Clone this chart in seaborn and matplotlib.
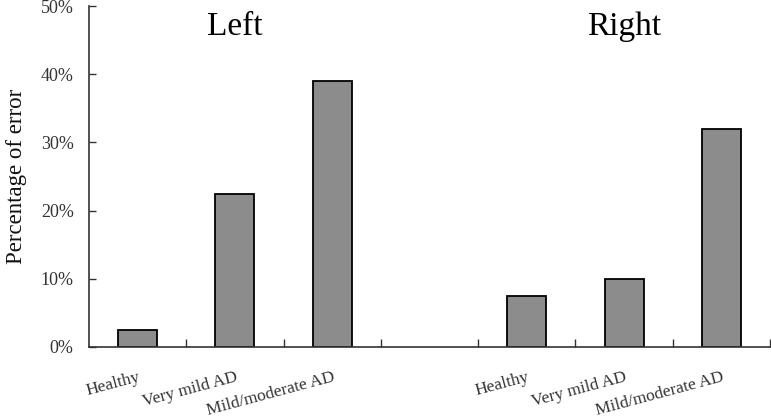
import matplotlib
matplotlib.use("Agg")
import matplotlib.pyplot as plt
import seaborn as sns
import pandas as pd
import numpy as np
from matplotlib.ticker import FixedLocator, FuncFormatter

# slot keys (one empty slot between the two sides)
slots = ["L_healthy", "L_vmild", "L_mild", "gap", "R_healthy", "R_vmild", "R_mild"]
slot_labels = ["Healthy", "Very mild AD", "Mild/moderate AD", "",
               "Healthy", "Very mild AD", "Mild/moderate AD"]
bar_keys = ["L_healthy", "L_vmild", "L_mild", "R_healthy", "R_vmild", "R_mild"]
error_pct = [2.5, 22.5, 39.0, 7.5, 10.0, 32.0]
side_titles = ["Left", "Right"]
title_slots = [1, 5]

sns.set_style("white")
plt.rcParams["font.family"] = ["Liberation Serif", "DejaVu Serif"]

df = pd.DataFrame({"slot": bar_keys, "err": error_pct})

fig = plt.figure(figsize=(7.71, 4.18), dpi=100)
ax = fig.add_axes([0.1154, 0.170, 0.8833, 0.8156])
sns.barplot(data=df, x="slot", y="err", order=slots, width=0.4,
            color="#8c8c8c", saturation=1, edgecolor="black", linewidth=1.3, ax=ax)

ax.set_xlim(-0.5, 6.5)
ax.set_ylim(0, 50)
ax.set_xlabel("")
ax.set_ylabel("Percentage of error", fontsize=16.5, color="#111111", labelpad=10)

for s in ["top", "right"]:
    ax.spines[s].set_visible(False)
for s in ["left", "bottom"]:
    ax.spines[s].set_color("#333333")
    ax.spines[s].set_linewidth(1.2)

ax.yaxis.set_major_locator(FixedLocator(np.arange(0, 51, 10)))
ax.yaxis.set_major_formatter(FuncFormatter(lambda v, p: f"{v:.0f}%"))
ax.tick_params(axis="y", left=True, direction="in", length=5, width=1, color="#333333",
               labelsize=13, labelcolor="#333333", pad=11)

ax.set_xticks(range(len(slots)))
ax.set_xticklabels(slot_labels, rotation=15, ha="right", va="top",
                   rotation_mode="anchor", fontsize=12.5, color="#333333")
ax.tick_params(axis="x", which="major", length=0, pad=16)
ax.xaxis.set_minor_locator(FixedLocator(np.arange(0.5, 7.0, 1.0)))
ax.tick_params(axis="x", which="minor", bottom=True, direction="in", length=6, width=1,
               color="#333333")

for t, sl in zip(side_titles, title_slots):
    ax.text(sl, 47, t, ha="center", va="center", fontsize=24, color="black")

fig.savefig("out.png", dpi=100)
